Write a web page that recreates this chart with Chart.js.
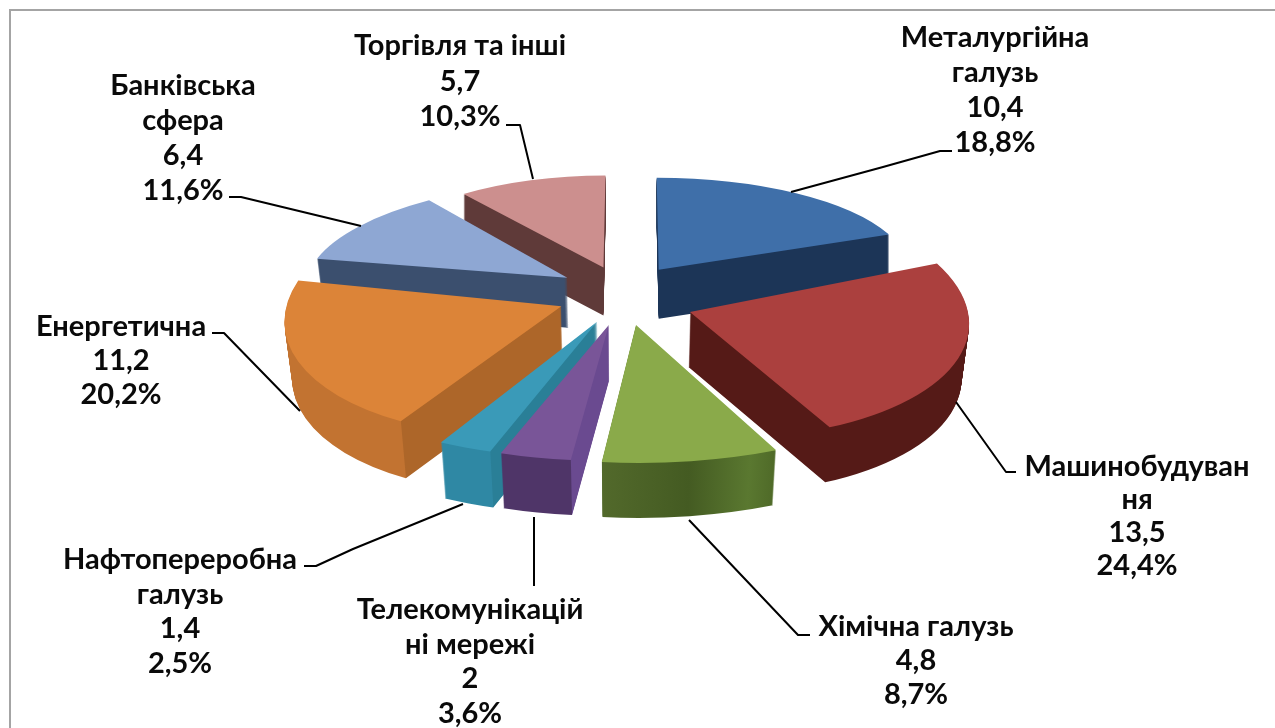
<!DOCTYPE html>
<html lang="uk"><head><meta charset="utf-8">
<style>html,body{margin:0;padding:0;background:#fff}canvas{display:block}
#f{position:absolute;left:9px;top:9px;right:0;bottom:0;border-left:2px solid #a4a4a4;border-top:2px solid #a4a4a4;pointer-events:none}</style>
<script src="https://cdn.jsdelivr.net/npm/chart.js@4"></script></head>
<body><canvas id="c" width="1275" height="728"></canvas><div id="f"></div>
<script>
const categories=["Металургійна галузь","Машинобудування","Хімічна галузь","Телекомунікаційні мережі","Нафтопереробна галузь","Енергетична","Банківська сфера","Торгівля та інші"];
const values=[10.4,13.5,4.8,2,1.4,11.2,6.4,5.7];
const percents=["18,8%","24,4%","8,7%","3,6%","2,5%","20,2%","11,6%","10,3%"];
const nameLines=[["Металургійна","галузь"],["Машинобудуван","ня"],["Хімічна галузь"],["Телекомунікацій","ні мережі"],["Нафтопереробна","галузь"],["Енергетична"],["Банківська","сфера"],["Торгівля та інші"]];
const topColors=["#3f6fa9","#ab403e","#8aaa4a","#795598","#3a9ab8","#dc8438","#8ea7d3","#cc8f8e"];
/* wall colours: [front wall, cut wall]; the colour changes at the slice's front corner */
const wallColors=[["#1c3557","#1c3557"],["#551a17","#551a17"],null,["#4f3568","#6a4a90"],["#2f88a4","#2a7f97"],["#c27331","#ad6629"],["#3b4f6e","#3b4f6e"],["#5f3a39","#5f3a39"]];
const chemWall=[[0,"#52692b"],[.5,"#445b22"],[.85,"#5a7830"],[1,"#4f6a28"]];
const explode=[55,55,55,60.6,60.6,55,55,60.6];
/* per-slice apex correction and perspective shape: [scale x, skew x, scale y] */
const apexNudge=[[3,-11],[12,6],[1,5],[-3,3],[-3,1],[-14,-1],[-13,-9],[-4,-9]];
const sliceShape=[[250,2,92],[278,26,127],[329,3,138],[318,-2,136],[338,6,138],[275,-33,131],[260,-23,97],[235,-2,92]];
const wallDepth=[49,55,55,55,56,57,50,48];
const wallTaper=[0,.0004,.0004,.0004,.0004,.0004,.0004,0];
const drawOrder=[7,0,6,1,5,4,3,2];
const labelCenters=[[995,38],[1137,467],[916,627],[470,610],[180,560],[121,327],[183,86],[460,46]];
const lineSteps=[35,33,34,34.5,34.5,34,35,35.5];
const leaders=[
 [[791,192],[883,167],[940,151],[952,151]],
 [[956,402],[1006,472],[1016,472]],
 [[689,520],[798,635],[810,635]],
 [[534,517],[534,586]],
 [[463,504],[353,549],[316,566],[304,566]],
 [[300,411],[224,333],[212,333]],
 [[361,226],[241,197],[229,197]],
 [[533,179],[520,125],[506,125]]];
const view={cx:626,cy:298,s:.39,k:.000675};
const font='bold 29px Lato, "Noto Sans", sans-serif';

function project(x,y){const w=1-view.k*y;return{X:view.cx+x/w,Y:view.cy+view.s*y/w};}
function drawSlice(ctx,arc,i){
 const p=arc.getProps(['x','y','startAngle','endAngle','outerRadius']);
 const mid=(p.startAngle+p.endAngle)/2;
 const t=project(Math.cos(mid)*explode[i],Math.sin(mid)*explode[i]);
 t.X+=apexNudge[i][0];t.Y+=apexNudge[i][1];
 const [A,C,D]=sliceShape[i],rad=p.outerRadius;
 const a=A/rad,c=C/rad,d=D/rad;
 const e=t.X-a*p.x-c*p.y,f=t.Y-d*p.y;
 const sx=t.X+A*Math.cos(p.startAngle)+C*Math.sin(p.startAngle);
 const ex=t.X+A*Math.cos(p.endAngle)+C*Math.sin(p.endAngle);
 /* a horizontal screen gradient expressed in the slice's own drawing space */
 const n=a*a+c*c,grad=ctx.createLinearGradient(-e/n*a,-e/n*c,(1275-e)/n*a,(1275-e)/n*c);
 const stop=(x,col)=>grad.addColorStop(Math.min(1,Math.max(0,x/1275)),col);
 if(wallColors[i]){
  stop(sx-.5,wallColors[i][0]);stop(sx+.5,wallColors[i][1]);
 }else{
  chemWall.forEach(s=>stop(ex+s[0]*(sx-ex),s[1]));
 }
 const base=arc.options;
 arc.options=Object.assign({},base,{backgroundColor:grad,borderWidth:0});
 const put=(h)=>{ctx.save();
  ctx.translate(view.cx,h);ctx.scale(1-h*wallTaper[i],1);ctx.translate(-view.cx,0);
  ctx.transform(a,0,c,d,e,f);arc.draw(ctx);ctx.restore();};
 for(let h=wallDepth[i];h>=1;h--)put(h);
 arc.options=base;
 put(0);
}
const pie3d={id:'pie3d',
 beforeDatasetsDraw(chart){
  const ctx=chart.ctx,arcs=chart.getDatasetMeta(0).data;
  drawOrder.forEach(i=>drawSlice(ctx,arcs[i],i));
  return false;
 },
 afterDraw(chart){
  const ctx=chart.ctx;ctx.save();
  ctx.strokeStyle="#000";ctx.lineWidth=2;ctx.lineJoin="round";
  leaders.forEach(l=>{ctx.beginPath();l.forEach((q,j)=>j?ctx.lineTo(q[0],q[1]):ctx.moveTo(q[0],q[1]));ctx.stroke();});
  ctx.font=font;ctx.fillStyle="#0a0a0a";ctx.textAlign="center";ctx.textBaseline="middle";
  categories.forEach((_,i)=>{
   const lines=nameLines[i].concat([String(values[i]).replace('.',','),percents[i]]);
   lines.forEach((t,j)=>ctx.fillText(t,labelCenters[i][0],labelCenters[i][1]+j*lineSteps[i]));
  });
  ctx.restore();
 }};
new Chart(document.getElementById('c'),{type:'pie',
 data:{labels:categories,datasets:[{data:values,backgroundColor:topColors,borderWidth:0,hoverOffset:0}]},
 options:{responsive:false,animation:false,events:[],layout:{padding:0},plugins:{legend:{display:false},tooltip:{enabled:false}}},
 plugins:[pie3d]});
</script></body></html>
